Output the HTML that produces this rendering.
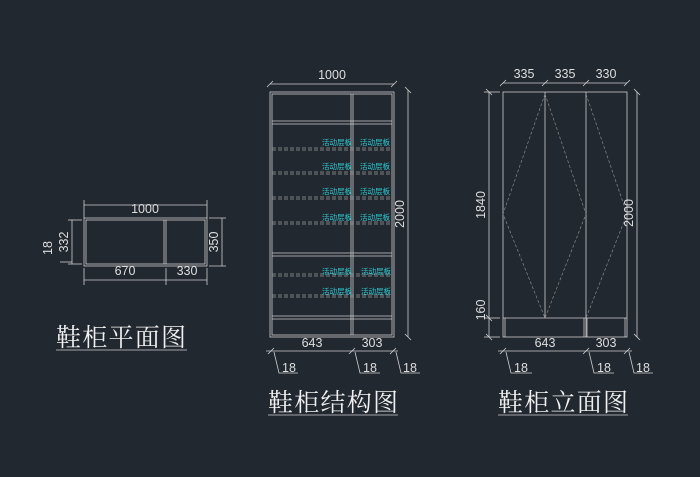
<!DOCTYPE html>
<html><head><meta charset="utf-8"><style>
html,body{margin:0;padding:0;background:#212830;}
svg{display:block}
text{font-family:"Liberation Sans","Noto Sans CJK SC",sans-serif;fill:#dedede}
.t{font-size:12.5px}
.c{font-size:7.5px;fill:#2ec8d0}
.ti{font-family:"Noto Serif CJK SC","Noto Sans CJK SC",serif;font-size:25px;fill:#f0f0f0}
</style></head><body>
<svg width="700" height="477" viewBox="0 0 700 477">
<g stroke="#cfcfcf" stroke-width="0.8" fill="none">
<!-- PLAN -->
<rect x="84" y="218" width="123" height="48"/>
<rect x="86" y="220" width="119" height="44"/>
<line x1="164" y1="220" x2="164" y2="264"/><line x1="166" y1="220" x2="166" y2="264"/>
<line x1="84" y1="205" x2="207" y2="205"/>
<line x1="84" y1="200" x2="84" y2="218"/><line x1="207" y1="200" x2="207" y2="218"/>
<line x1="84" y1="280" x2="207" y2="280"/>
<line x1="84" y1="268" x2="84" y2="285"/><line x1="166" y1="268" x2="166" y2="285"/><line x1="207" y1="268" x2="207" y2="285"/>
<line x1="222" y1="218" x2="222" y2="266"/>
<line x1="209" y1="218" x2="226" y2="218"/><line x1="209" y1="266" x2="226" y2="266"/>
<line x1="72" y1="220" x2="72" y2="264"/>
<line x1="68" y1="220" x2="82" y2="220"/><line x1="68" y1="264" x2="82" y2="264"/>
<polyline points="72,262 64,262 60,262"/>
<!-- STRUCTURE -->
<rect x="270" y="92" width="124" height="245"/>
<rect x="272" y="94" width="120" height="241"/>
<line x1="351" y1="94" x2="351" y2="335"/><line x1="353" y1="94" x2="353" y2="335"/>
<line x1="272" y1="121" x2="392" y2="121"/><line x1="272" y1="124" x2="392" y2="124"/>
<line x1="272" y1="253" x2="392" y2="253"/><line x1="272" y1="256" x2="392" y2="256"/>
<line x1="272" y1="316" x2="392" y2="316"/><line x1="272" y1="319" x2="392" y2="319"/>
<g stroke-dasharray="4,2" stroke="#9a9a9a" stroke-width="0.7">
<line x1="272" y1="148" x2="392" y2="148"/><line x1="272" y1="150" x2="392" y2="150"/>
<line x1="272" y1="172" x2="392" y2="172"/><line x1="272" y1="174" x2="392" y2="174"/>
<line x1="272" y1="197" x2="392" y2="197"/><line x1="272" y1="199" x2="392" y2="199"/>
<line x1="272" y1="222" x2="392" y2="222"/><line x1="272" y1="224" x2="392" y2="224"/>
<line x1="272" y1="274" x2="392" y2="274"/><line x1="272" y1="276" x2="392" y2="276"/>
<line x1="272" y1="295" x2="392" y2="295"/><line x1="272" y1="297" x2="392" y2="297"/>
</g>
<line x1="270" y1="84" x2="394" y2="84"/>
<line x1="267" y1="87" x2="273" y2="81"/><line x1="391" y1="87" x2="397" y2="81"/>
<line x1="408" y1="90" x2="408" y2="337"/>
<line x1="405" y1="87" x2="411" y2="93"/><line x1="405" y1="334" x2="411" y2="340"/>
<line x1="266" y1="351" x2="398" y2="351"/>
<line x1="268" y1="354" x2="274" y2="348"/><line x1="349" y1="354" x2="355" y2="348"/><line x1="390" y1="354" x2="396" y2="348"/>
<polyline points="274,352 279,373 298,373"/><polyline points="355,352 360,373 380,373"/><polyline points="396,352 401,373 420,373"/>
<!-- ELEVATION -->
<rect x="503" y="92" width="124" height="245"/>
<line x1="545" y1="92" x2="545" y2="318"/><line x1="586" y1="92" x2="586" y2="337"/>
<line x1="503" y1="318" x2="627" y2="318"/>
<line x1="505" y1="318" x2="505" y2="337"/><line x1="584" y1="318" x2="584" y2="337"/><line x1="587" y1="318" x2="587" y2="337"/><line x1="625" y1="318" x2="625" y2="337"/>
<g stroke-dasharray="3,2" stroke="#888" stroke-width="0.7">
<polyline points="545,94 503,214 545,318"/><polyline points="545,94 586,214 545,318"/><polyline points="586,94 627,214 586,318"/>
</g>
<line x1="503" y1="83" x2="627" y2="83"/>
<line x1="500" y1="86" x2="506" y2="80"/><line x1="542" y1="86" x2="548" y2="80"/><line x1="583" y1="86" x2="589" y2="80"/><line x1="624" y1="86" x2="630" y2="80"/>
<line x1="489" y1="92" x2="489" y2="337"/>
<line x1="486" y1="89" x2="492" y2="95"/><line x1="486" y1="315" x2="492" y2="321"/><line x1="486" y1="334" x2="492" y2="340"/>
<line x1="484" y1="92" x2="500" y2="92"/><line x1="484" y1="318" x2="500" y2="318"/><line x1="484" y1="337" x2="500" y2="337"/>
<line x1="637" y1="92" x2="637" y2="337"/>
<line x1="634" y1="89" x2="640" y2="95"/><line x1="634" y1="334" x2="640" y2="340"/>
<line x1="498" y1="351" x2="632" y2="351"/>
<line x1="500" y1="354" x2="506" y2="348"/><line x1="583" y1="354" x2="589" y2="348"/><line x1="624" y1="354" x2="630" y2="348"/>
<polyline points="506,352 511,373 532,373"/><polyline points="589,352 594,373 614,373"/><polyline points="629,352 634,373 653,373"/>
<!-- title underlines -->
<line x1="56" y1="350" x2="187" y2="350"/>
<line x1="268" y1="415" x2="398" y2="415"/>
<line x1="498" y1="415" x2="628" y2="415"/>
</g>
<!-- plan text -->
<text class="t" x="145" y="213" text-anchor="middle">1000</text>
<text class="t" x="125" y="275" text-anchor="middle">670</text>
<text class="t" x="187" y="275" text-anchor="middle">330</text>
<text class="t" transform="translate(218,242) rotate(-90)" text-anchor="middle">350</text>
<text class="t" transform="translate(68,242) rotate(-90)" text-anchor="middle">332</text>
<text class="t" transform="translate(52,248) rotate(-90)" text-anchor="middle">18</text>
<!-- structure text -->
<text class="t" x="332" y="79" text-anchor="middle">1000</text>
<text class="t" transform="translate(404,214) rotate(-90)" text-anchor="middle">2000</text>
<text class="t" x="312" y="347" text-anchor="middle">643</text>
<text class="t" x="372" y="347" text-anchor="middle">303</text>
<text class="t" x="282" y="372">18</text><text class="t" x="363" y="372">18</text><text class="t" x="403" y="372">18</text>
<text class="c" x="322" y="145">活动层板</text><text class="c" x="360" y="145">活动层板</text>
<text class="c" x="322" y="169">活动层板</text><text class="c" x="360" y="169">活动层板</text>
<text class="c" x="322" y="194">活动层板</text><text class="c" x="360" y="194">活动层板</text>
<text class="c" x="322" y="220">活动层板</text><text class="c" x="360" y="220">活动层板</text>
<text class="c" x="322" y="274">活动层板</text><text class="c" x="361" y="274">活动层板</text>
<text class="c" x="322" y="294">活动层板</text><text class="c" x="361" y="294">活动层板</text>
<!-- elevation text -->
<text class="t" x="524" y="78" text-anchor="middle">335</text>
<text class="t" x="565" y="78" text-anchor="middle">335</text>
<text class="t" x="606" y="78" text-anchor="middle">330</text>
<text class="t" transform="translate(485,205) rotate(-90)" text-anchor="middle">1840</text>
<text class="t" transform="translate(485,310) rotate(-90)" text-anchor="middle">160</text>
<text class="t" transform="translate(633,213) rotate(-90)" text-anchor="middle">2000</text>
<text class="t" x="545" y="347" text-anchor="middle">643</text>
<text class="t" x="606" y="347" text-anchor="middle">303</text>
<text class="t" x="514" y="372">18</text><text class="t" x="597" y="372">18</text><text class="t" x="636" y="372">18</text>
<!-- titles -->
<text class="ti" x="56" y="346" textLength="130">鞋柜平面图</text>
<text class="ti" x="268" y="411" textLength="130">鞋柜结构图</text>
<text class="ti" x="498" y="411" textLength="130">鞋柜立面图</text>
</svg>
</body></html>
